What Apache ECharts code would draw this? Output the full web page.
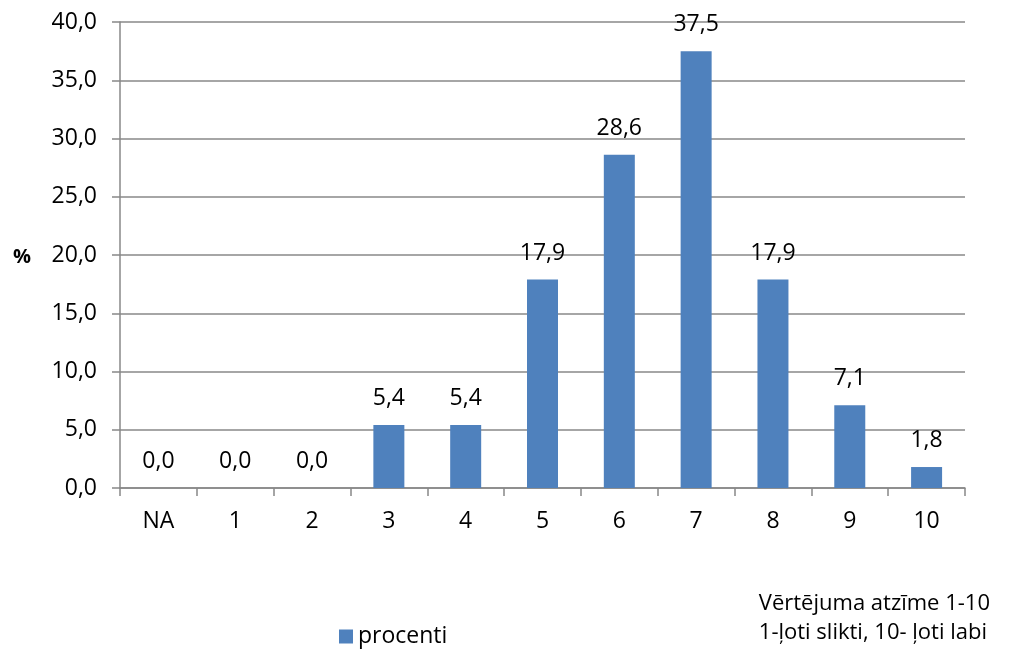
<!DOCTYPE html>
<html>
<head>
<meta charset="utf-8">
<script src="https://cdn.jsdelivr.net/npm/echarts@6/dist/echarts.min.js"></script>
<style>
  html, body { margin: 0; padding: 0; background: #fff; }
  #chart { width: 1010px; height: 651px; }
</style>
</head>
<body>
<div id="chart"></div>
<script>
// Rating categories and share of answers (%)
const categories = ['NA', '1', '2', '3', '4', '5', '6', '7', '8', '9', '10'];
const procenti = [0.0, 0.0, 0.0, 5.4, 5.4, 17.9, 28.6, 37.5, 17.9, 7.1, 1.8];
const yTicks = [0, 5, 10, 15, 20, 25, 30, 35, 40];

const FONT = '"Open Sans", "DejaVu Sans", sans-serif';
const fmt = v => Number(v).toFixed(1).replace('.', ',');

const chart = echarts.init(document.getElementById('chart'), null, { renderer: 'canvas' });
chart.setOption({
  animation: false,
  textStyle: { fontFamily: FONT },
  grid: { left: 120, right: 45, top: 22, bottom: 163, containLabel: false },
  legend: {
    data: ['procenti'],
    left: 334, top: 620,
    itemWidth: 14, itemHeight: 14, itemGap: 6,
    icon: 'rect',
    textStyle: { fontFamily: FONT, fontSize: 23, color: '#000' }
  },
  xAxis: {
    type: 'category',
    data: categories,
    axisLine: { lineStyle: { color: '#888', width: 1.5 } },
    axisTick: { show: true, alignWithLabel: false, length: 8, lineStyle: { color: '#888', width: 1.5 } },
    axisLabel: { color: '#000', fontSize: 23, fontFamily: FONT, margin: 22 }
  },
  yAxis: {
    type: 'value',
    min: yTicks[0], max: yTicks[yTicks.length - 1], interval: 5,
    axisLine: { show: true, lineStyle: { color: '#888', width: 1.5 } },
    axisTick: { show: true, length: 8, inside: false, lineStyle: { color: '#888', width: 1.5 } },
    splitLine: { lineStyle: { color: '#888', width: 1.5 } },
    axisLabel: { color: '#000', fontSize: 23, fontFamily: FONT, margin: 23, formatter: fmt }
  },
  series: [{
    name: 'procenti',
    type: 'bar',
    data: procenti,
    barWidth: 31,
    itemStyle: { color: '#4F81BD' },
    label: {
      show: true, position: 'top', distance: 15,
      color: '#000', fontSize: 23, fontFamily: FONT,
      formatter: p => fmt(p.value)
    }
  }],
  graphic: [
    {
      type: 'text', left: 13, top: 247,
      style: { text: '%', fontFamily: FONT, fontSize: 20, fontWeight: 'bold', fill: '#000' }
    },
    {
      type: 'text', right: 20, top: 589,
      style: {
        text: 'Vērtējuma atzīme 1-10\n1-ļoti slikti, 10- ļoti labi',
        fontFamily: FONT, fontSize: 22, fill: '#000', lineHeight: 29, align: 'left'
      }
    }
  ]
});
</script>
</body>
</html>
